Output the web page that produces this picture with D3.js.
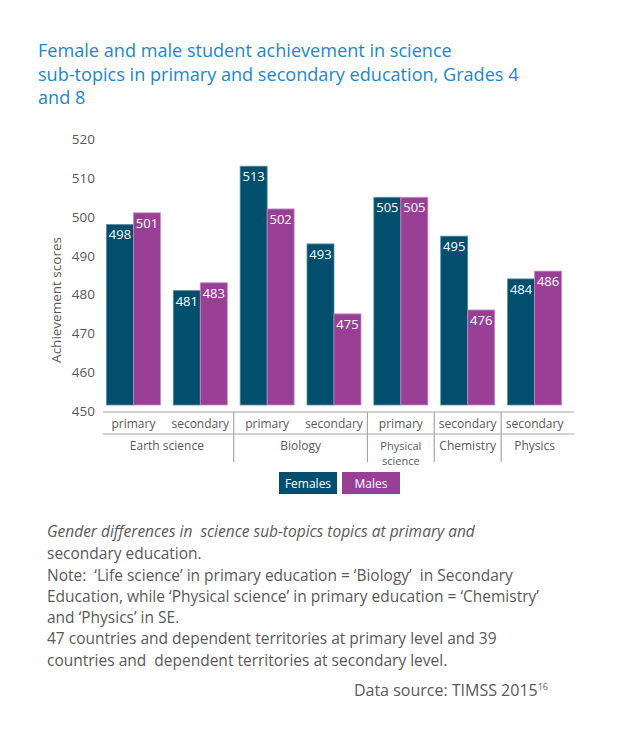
<html>
<head>
<meta charset="utf-8">
<script src="https://d3js.org/d3.v7.min.js"></script>
<style>
body { margin: 0; background: #fff; }
text { font-family: "Open Sans", sans-serif; }
</style>
</head>
<body>
<svg id="chart" width="640" height="748"></svg>
<script>
// data
var slots = ["es-p", "es-s", "bio-p", "bio-s", "phys-p", "chem-s", "phy-s"];
var levels = ["primary", "secondary", "primary", "secondary", "primary", "secondary", "secondary"];
var females = [498, 481, 513, 493, 505, 495, 484];
var males = [501, 483, 502, 475, 505, 476, 486];
var categories = ["Earth science", "Biology", "Physical\nscience", "Chemistry", "Physics"];
var catSlots = [[0, 1], [2, 3], [4, 4], [5, 5], [6, 6]];
var yTicks = [450, 460, 470, 480, 490, 500, 510, 520];
var series = ["Females", "Males"];

var teal = "#024f6d", purple = "#9a3f96", grey = "#595959", axisGrey = "#a6a6a6";

var svg = d3.select("#chart");

// title
var title = ["Female and male student achievement in science",
  "sub-topics in primary and secondary education, Grades 4",
  "and 8"];
svg.selectAll(".title").data(title).enter().append("text")
  .attr("x", 38).attr("y", function(d, i) { return 57 + i * 23.5; })
  .attr("font-size", "18.1px").attr("fill", "#1b87cf")
  .text(function(d) { return d; });

var y = d3.scaleLinear().domain([450, 520]).range([411, 139]);
var x = d3.scaleBand().domain(slots).range([100, 568]);
var sub = d3.scaleBand().domain(series).range([0, 54]);

// y tick labels
svg.selectAll(".ytick").data(yTicks).enter().append("text")
  .attr("x", 95).attr("y", function(d) { return y(d) + 5; })
  .attr("text-anchor", "end").attr("font-size", "13.5px").attr("fill", grey)
  .text(function(d) { return d; });

svg.append("text")
  .attr("transform", "translate(61,300) rotate(-90)")
  .attr("text-anchor", "middle").attr("font-size", "13.5px").attr("fill", grey)
  .text("Achievement scores");

// bars
var groups = svg.selectAll(".grp").data(slots).enter().append("g")
  .attr("transform", function(d) { return "translate(" + (x(d) + x.bandwidth() / 2 - 27) + ",0)"; });

[females, males].forEach(function(vals, k) {
  groups.append("rect")
    .attr("x", sub(series[k]))
    .attr("y", function(d, i) { return y(vals[i]); })
    .attr("width", sub.bandwidth())
    .attr("height", function(d, i) { return y(450) - 6 - y(vals[i]); })
    .attr("fill", k == 0 ? teal : purple)
    .attr("stroke", k == 0 ? "#5d8da3" : "#c68cc3").attr("stroke-width", 0.8);
  groups.append("text")
    .attr("x", sub(series[k]) + sub.bandwidth() / 2)
    .attr("y", function(d, i) { return y(vals[i]) + 15; })
    .attr("text-anchor", "middle").attr("font-size", "13px").attr("fill", "#fff")
    .text(function(d, i) { return vals[i]; });
});

// category axis
var x0 = x.range()[0] + 3, x1 = x.range()[1] + 6;
svg.append("line").attr("x1", x0).attr("x2", x1).attr("y1", 412).attr("y2", 412)
  .attr("stroke", axisGrey).attr("stroke-width", 1.2);
svg.append("line").attr("x1", x0).attr("x2", x1).attr("y1", 434).attr("y2", 434)
  .attr("stroke", axisGrey).attr("stroke-width", 1.2);

svg.selectAll(".lvl").data(slots).enter().append("text")
  .attr("x", function(d) { return x(d) + x.bandwidth() / 2; })
  .attr("y", 428).attr("text-anchor", "middle")
  .attr("font-size", "12px").attr("fill", grey)
  .text(function(d, i) { return levels[i]; });

catSlots.forEach(function(s, i) {
  var a = x(slots[s[0]]), b = x(slots[s[1]]) + x.bandwidth();
  if (i > 0) {
    svg.append("line").attr("x1", a).attr("x2", a).attr("y1", 412).attr("y2", 462)
      .attr("stroke", axisGrey).attr("stroke-width", 1.2);
  }
  var lines = categories[i].split("\n");
  lines.forEach(function(l, j) {
    svg.append("text").attr("text-anchor", "middle")
      .attr("x", (a + b) / 2).attr("y", 450 + j * 15)
      .attr("font-size", lines.length > 1 ? "11px" : "12px").attr("fill", grey)
      .text(l);
  });
});

// legend
var legend = svg.selectAll(".leg").data(series).enter().append("g")
  .attr("transform", function(d, i) { return "translate(" + (279 + i * 63) + ",472)"; });
legend.append("rect").attr("width", 58).attr("height", 22)
  .attr("fill", function(d, i) { return i == 0 ? teal : purple; });
legend.append("text").attr("x", 29).attr("y", 15.5).attr("text-anchor", "middle")
  .attr("font-size", "12px").attr("fill", "#fff")
  .text(function(d) { return d; });

// notes
var notes = [
  "Gender differences in  science sub-topics topics at primary and",
  "secondary education.",
  "Note:  \u2018Life science\u2019 in primary education = \u2018Biology\u2019  in Secondary",
  "Education, while \u2018Physical science\u2019 in primary education = \u2018Chemistry\u2019",
  "and \u2018Physics\u2019 in SE.",
  "47 countries and dependent territories at primary level and 39",
  "countries and  dependent territories at secondary level."
];
var nb = [537, 559, 581, 602, 623, 644, 666];
svg.selectAll(".note").data(notes).enter().append("text")
  .attr("x", 47).attr("y", function(d, i) { return nb[i]; })
  .attr("font-size", "15.5px").attr("fill", grey)
  .attr("font-style", function(d, i) { return i == 0 ? "italic" : "normal"; })
  .style("white-space", "pre")
  .text(function(d) { return d; });

var src = svg.append("text").attr("x", 548).attr("y", 696).attr("text-anchor", "end")
  .attr("font-size", "16px").attr("fill", grey);
src.append("tspan").text("Data source: TIMSS 2015");
src.append("tspan").attr("dy", -6).attr("font-size", "9px").text("16");
</script>
</body>
</html>
